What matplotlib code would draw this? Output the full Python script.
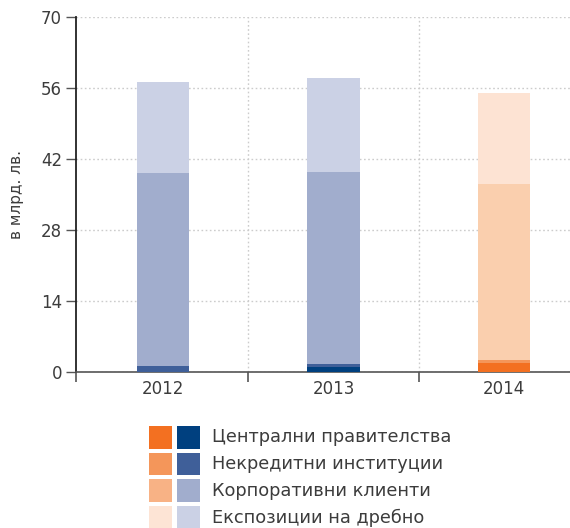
import numpy as np
import matplotlib.pyplot as plt
from matplotlib.patches import Rectangle

plt.rcParams['font.family'] = ['DejaVu Sans']

# data (bn BGN)
years = ['2012', '2013', '2014']
central = [0.0, 0.85, 1.8]
nonbank = [1.2, 0.6, 0.6]
corporate = [37.9, 37.95, 34.6]
retail = [18.1, 18.5, 18.0]

series_names = ['Централни правителства', 'Некредитни институции',
                'Корпоративни клиенти', 'Експозиции на дребно']
orange = ['#f37021', '#f4965a', '#f8b285', '#fde4d5']
blue = ['#00407f', '#3f5f99', '#a1adcd', '#cbd1e5']
bar_orange = ['#f37021', '#f4965a', '#facfae', '#fde3d3']
yticks = [0, 14, 28, 42, 56, 70]

txt = '#3c3c3c'
W, H = 570, 528
fig = plt.figure(figsize=(W / 100, H / 100), dpi=100)
ax = fig.add_axes([76 / W, 1 - 371.7 / H, 1 - 76 / W, (371.7 - 16.7) / H])

x = np.arange(len(years))
stack = [central, nonbank, corporate, retail]
bottom = np.zeros(len(years))
for i, vals in enumerate(stack):
    cols = [blue[i], blue[i], bar_orange[i]]
    ax.bar(x, vals, width=0.31, bottom=bottom, color=cols, zorder=3, linewidth=0)
    bottom += np.array(vals)

ax.set_ylim(0, 70)
ax.set_xlim(-0.51, 2.387)
ax.set_yticks(yticks)
ax.set_yticklabels([str(t) for t in yticks], fontsize=12, color=txt)
ax.set_xticks(x)
ax.set_xticklabels(years, fontsize=12, color=txt)
ax.tick_params(axis='x', length=0, pad=6)
ax.set_xticks([-0.51, 0.5, 1.5], minor=True)
ax.tick_params(axis='x', which='minor', length=7, width=1.2, color='#555555')
ax.tick_params(axis='y', length=7, width=1, color='#555555', pad=3)

ax.grid(axis='y', linestyle=(0, (1.2, 1.8)), color='#cccccc', linewidth=1, zorder=0)
for sx in [0.5, 1.5]:
    ax.axvline(sx, linestyle=(0, (1.2, 1.8)), color='#cccccc', linewidth=1, zorder=0)

for s in ['top', 'right']:
    ax.spines[s].set_visible(False)
ax.spines['left'].set_color('#222222')
ax.spines['left'].set_linewidth(1.3)
ax.spines['bottom'].set_color('#555555')
ax.spines['bottom'].set_linewidth(1.2)
ax.set_ylabel('в млрд. лв.', fontsize=11, color=txt, labelpad=12)

# legend: two swatches per row (2014 orange, 2012-2013 blue)
lg = fig.add_axes([0, 0, 1, 1])
lg.set_xlim(0, W)
lg.set_ylim(H, 0)
lg.axis('off')
for i, name in enumerate(series_names):
    top = 426 + i * 26.7
    lg.add_patch(Rectangle((149.3, top), 22.7, 22.7, color=orange[i], lw=0))
    lg.add_patch(Rectangle((177, top), 22.7, 22.7, color=blue[i], lw=0))
    lg.text(211.5, top + 11.5, name, fontsize=12.8, color=txt, va='center', ha='left')

fig.savefig('out.png', dpi=100)
